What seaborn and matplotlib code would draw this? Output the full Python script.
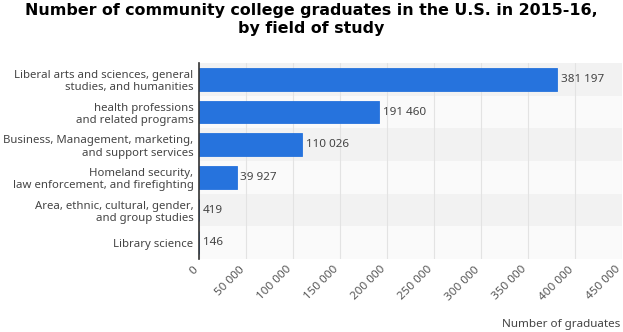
import matplotlib
matplotlib.use("Agg")
import matplotlib.pyplot as plt
import matplotlib.transforms as mtransforms
import seaborn as sns
import pandas as pd

fields = [
    "Liberal arts and sciences, general\nstudies, and humanities",
    "health professions\nand related programs",
    "Business, Management, marketing,\nand support services",
    "Homeland security,\nlaw enforcement, and firefighting",
    "Area, ethnic, cultural, gender,\nand group studies",
    "Library science",
]
graduates = [381197, 191460, 110026, 39927, 419, 146]
x_ticks = [0, 50000, 100000, 150000, 200000, 250000, 300000, 350000, 400000, 450000]

df = pd.DataFrame({"field": fields, "graduates": graduates})

sns.set_theme(style="white")
plt.rcParams["font.family"] = ["Noto Sans", "DejaVu Sans"]

fig = plt.figure(figsize=(6.23, 3.32), dpi=100)
ax = fig.add_axes([199 / 623, 1 - 259 / 332, 423 / 623, 196 / 332])

# alternating row bands
for i in range(len(fields)):
    ax.axhspan(i - 0.5, i + 0.5, color="#f2f2f2" if i % 2 == 0 else "#fafafa", zorder=0, lw=0)

sns.barplot(data=df, x="graduates", y="field", color="#2673dd", width=0.7,
            saturation=1, ax=ax, zorder=3, edgecolor="#2673dd", linewidth=0.6)

ax.set_xlim(0, 450000)
ax.set_ylim(len(fields) - 0.5, -0.5)
ax.set_xticks(x_ticks)
ax.set_xticklabels([])
ax.tick_params(axis="x", length=0)
ax.tick_params(axis="y", length=0, pad=4, labelsize=8.2, labelcolor="#444444")
for lbl in ax.get_yticklabels():
    lbl.set_multialignment("right")

# rotated x tick labels, nudged left so the last one stays inside the figure
offset = mtransforms.ScaledTranslation(-3 / 100, -9 / 100, fig.dpi_scale_trans)
tick_tr = ax.get_xaxis_transform() + offset
for v in x_ticks:
    ax.text(v, 0, f"{v:,}".replace(",", " "), transform=tick_tr, rotation=45,
            rotation_mode="anchor", ha="right", va="center", fontsize=8.4,
            color="#555555", clip_on=False)

ax.grid(axis="x", color="#e3e3e3", linewidth=0.8, zorder=1)
for line in ax.get_xgridlines():
    line.set_zorder(1)

for side in ["top", "right", "bottom"]:
    ax.spines[side].set_visible(False)
ax.spines["left"].set_color("#333333")
ax.spines["left"].set_linewidth(1.2)
ax.spines["left"].set_zorder(5)

for i, v in enumerate(graduates):
    ax.text(v + 4000, i, f"{v:,}".replace(",", " "), va="center", ha="left",
            fontsize=8.4, color="#444444", zorder=4)

ax.set_ylabel("")
ax.set_xlabel("")
fig.text(620 / 623, 1 - 325 / 332, "Number of graduates", ha="right", va="center",
         fontsize=8.4, color="#444444")

fig.suptitle("Number of community college graduates in the U.S. in 2015-16,\nby field of study",
             x=0.5, y=0.99, fontsize=11.4, fontweight="bold", color="#000000",
             family="DejaVu Sans", linespacing=1.2)

fig.savefig("out.png", dpi=100)
